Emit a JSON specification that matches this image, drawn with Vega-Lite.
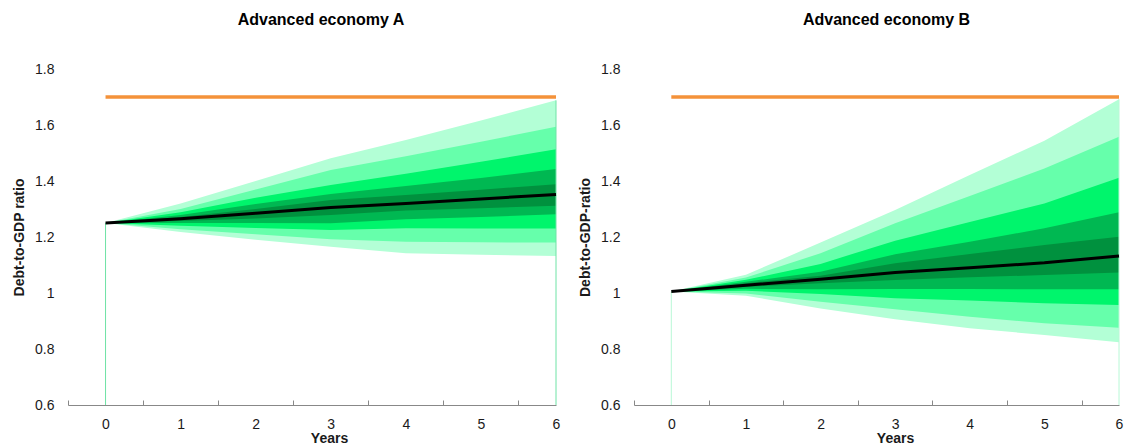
{
  "$schema": "https://vega.github.io/schema/vega-lite/v6.json",
  "padding": {"left": 12, "top": 12, "right": 0, "bottom": 0},
  "spacing": 15,
  "datasets": {
    "A": [
      {"t": 0, "b1": 1.25, "b2": 1.25, "b3": 1.25, "b4": 1.25, "b5": 1.25, "med": 1.25, "b6": 1.25, "b7": 1.25, "b8": 1.25, "b9": 1.25, "b10": 1.25},
      {"t": 1, "b1": 1.32, "b2": 1.30, "b3": 1.288, "b4": 1.279, "b5": 1.271, "med": 1.265, "b6": 1.257, "b7": 1.25, "b8": 1.24, "b9": 1.228, "b10": 1.218},
      {"t": 2, "b1": 1.40, "b2": 1.37, "b3": 1.34, "b4": 1.318, "b5": 1.30, "med": 1.285, "b6": 1.266, "b7": 1.25, "b8": 1.232, "b9": 1.21, "b10": 1.19},
      {"t": 3, "b1": 1.481, "b2": 1.439, "b3": 1.386, "b4": 1.354, "b5": 1.332, "med": 1.305, "b6": 1.279, "b7": 1.249, "b8": 1.225, "b9": 1.192, "b10": 1.165},
      {"t": 4, "b1": 1.546, "b2": 1.488, "b3": 1.426, "b4": 1.382, "b5": 1.35, "med": 1.32, "b6": 1.295, "b7": 1.263, "b8": 1.231, "b9": 1.183, "b10": 1.142},
      {"t": 5, "b1": 1.616, "b2": 1.54, "b3": 1.469, "b4": 1.411, "b5": 1.369, "med": 1.336, "b6": 1.303, "b7": 1.271, "b8": 1.23, "b9": 1.181, "b10": 1.137},
      {"t": 6, "b1": 1.688, "b2": 1.594, "b3": 1.513, "b4": 1.443, "b5": 1.388, "med": 1.352, "b6": 1.312, "b7": 1.281, "b8": 1.23, "b9": 1.18, "b10": 1.132}
    ],
    "B": [
      {"t": 0, "b1": 1.005, "b2": 1.005, "b3": 1.005, "b4": 1.005, "b5": 1.005, "med": 1.005, "b6": 1.005, "b7": 1.005, "b8": 1.005, "b9": 1.005, "b10": 1.005},
      {"t": 1, "b1": 1.065, "b2": 1.055, "b3": 1.047, "b4": 1.04, "b5": 1.035, "med": 1.028, "b6": 1.022, "b7": 1.015, "b8": 1.008, "b9": 0.998, "b10": 0.99},
      {"t": 2, "b1": 1.18, "b2": 1.142, "b3": 1.104, "b4": 1.076, "b5": 1.062, "med": 1.049, "b6": 1.035, "b7": 1.013, "b8": 0.996, "b9": 0.969, "b10": 0.945},
      {"t": 3, "b1": 1.296, "b2": 1.249, "b3": 1.187, "b4": 1.138, "b5": 1.106, "med": 1.073, "b6": 1.046, "b7": 1.014, "b8": 0.981, "b9": 0.942, "b10": 0.906},
      {"t": 4, "b1": 1.421, "b2": 1.346, "b3": 1.254, "b4": 1.183, "b5": 1.139, "med": 1.09, "b6": 1.056, "b7": 1.014, "b8": 0.973, "b9": 0.915, "b10": 0.874},
      {"t": 5, "b1": 1.544, "b2": 1.445, "b3": 1.32, "b4": 1.231, "b5": 1.171, "med": 1.108, "b6": 1.064, "b7": 1.013, "b8": 0.963, "b9": 0.892, "b10": 0.85},
      {"t": 6, "b1": 1.692, "b2": 1.558, "b3": 1.412, "b4": 1.288, "b5": 1.201, "med": 1.132, "b6": 1.073, "b7": 1.013, "b8": 0.957, "b9": 0.876, "b10": 0.824}
    ]
  },
  "hconcat": [
    {
      "width": 488,
      "height": 336,
      "title": {"text": "Advanced economy A", "fontSize": 16, "fontWeight": "bold", "anchor": "middle", "frame": "group", "offset": 34, "dx": 9, "color": "#000000"},
      "data": {"name": "A"},
      "layer": [
        {"mark": {"type": "area", "color": "#b3ffd6"}, "encoding": {
          "x": {"field": "t", "type": "quantitative", "title": "Years", "scale": {"domain": [-0.5, 6], "nice": false, "zero": false},
                "axis": {"values": [-0.5, 0.5, 1.5, 2.5, 3.5, 4.5, 5.5], "labelExpr": "format(datum.value + 0.5, 'd')", "labelOffset": 37.5}},
          "y": {"field": "b1", "type": "quantitative", "title": "Debt-to-GDP ratio", "scale": {"domain": [0.6, 1.8], "nice": false, "zero": false},
                "axis": {"values": [0.6, 0.8, 1.0, 1.2, 1.4, 1.6, 1.8], "format": ".1~f"}},
          "y2": {"field": "b10"}}},
        {"mark": {"type": "area", "color": "#66ffab"}, "encoding": {
          "x": {"field": "t", "type": "quantitative", "title": "Years"},
          "y": {"field": "b2", "type": "quantitative", "title": "Debt-to-GDP ratio"},
          "y2": {"field": "b9"}}},
        {"mark": {"type": "area", "color": "#00f56c"}, "encoding": {
          "x": {"field": "t", "type": "quantitative", "title": "Years"},
          "y": {"field": "b3", "type": "quantitative", "title": "Debt-to-GDP ratio"},
          "y2": {"field": "b8"}}},
        {"mark": {"type": "area", "color": "#00b852"}, "encoding": {
          "x": {"field": "t", "type": "quantitative", "title": "Years"},
          "y": {"field": "b4", "type": "quantitative", "title": "Debt-to-GDP ratio"},
          "y2": {"field": "b7"}}},
        {"mark": {"type": "area", "color": "#00913e"}, "encoding": {
          "x": {"field": "t", "type": "quantitative", "title": "Years"},
          "y": {"field": "b5", "type": "quantitative", "title": "Debt-to-GDP ratio"},
          "y2": {"field": "b6"}}},
        {"transform": [{"filter": "datum.t == 0 || datum.t == 6"}],
         "mark": {"type": "rule", "color": "#6fe3a6", "strokeWidth": 1},
         "encoding": {
          "x": {"field": "t", "type": "quantitative", "title": "Years"},
          "y": {"field": "b1", "type": "quantitative", "title": "Debt-to-GDP ratio"},
          "y2": {"value": "height"}}},
        {"mark": {"type": "line", "color": "#000000", "strokeWidth": 3}, "encoding": {
          "x": {"field": "t", "type": "quantitative", "title": "Years"},
          "y": {"field": "med", "type": "quantitative", "title": "Debt-to-GDP ratio"}}},
        {"mark": {"type": "line", "color": "#f4923a", "strokeWidth": 3.5}, "encoding": {
          "x": {"field": "t", "type": "quantitative", "title": "Years"},
          "y": {"datum": 1.7}}}
      ]
    },
    {
      "width": 485,
      "height": 336,
      "title": {"text": "Advanced economy B", "fontSize": 16, "fontWeight": "bold", "anchor": "middle", "frame": "group", "offset": 34, "dx": 10, "color": "#000000"},
      "data": {"name": "B"},
      "layer": [
        {"mark": {"type": "area", "color": "#b3ffd6"}, "encoding": {
          "x": {"field": "t", "type": "quantitative", "title": "Years", "scale": {"domain": [-0.5, 6], "nice": false, "zero": false},
                "axis": {"values": [-0.5, 0.5, 1.5, 2.5, 3.5, 4.5, 5.5], "labelExpr": "format(datum.value + 0.5, 'd')", "labelOffset": 37.3}},
          "y": {"field": "b1", "type": "quantitative", "title": "Debt-to-GDP-ratio", "scale": {"domain": [0.6, 1.8], "nice": false, "zero": false},
                "axis": {"values": [0.6, 0.8, 1.0, 1.2, 1.4, 1.6, 1.8], "format": ".1~f"}},
          "y2": {"field": "b10"}}},
        {"mark": {"type": "area", "color": "#66ffab"}, "encoding": {
          "x": {"field": "t", "type": "quantitative", "title": "Years"},
          "y": {"field": "b2", "type": "quantitative", "title": "Debt-to-GDP-ratio"},
          "y2": {"field": "b9"}}},
        {"mark": {"type": "area", "color": "#00f56c"}, "encoding": {
          "x": {"field": "t", "type": "quantitative", "title": "Years"},
          "y": {"field": "b3", "type": "quantitative", "title": "Debt-to-GDP-ratio"},
          "y2": {"field": "b8"}}},
        {"mark": {"type": "area", "color": "#00b852"}, "encoding": {
          "x": {"field": "t", "type": "quantitative", "title": "Years"},
          "y": {"field": "b4", "type": "quantitative", "title": "Debt-to-GDP-ratio"},
          "y2": {"field": "b7"}}},
        {"mark": {"type": "area", "color": "#00913e"}, "encoding": {
          "x": {"field": "t", "type": "quantitative", "title": "Years"},
          "y": {"field": "b5", "type": "quantitative", "title": "Debt-to-GDP-ratio"},
          "y2": {"field": "b6"}}},
        {"transform": [{"filter": "datum.t == 0 || datum.t == 6"}],
         "mark": {"type": "rule", "color": "#b8f8d6", "strokeWidth": 1},
         "encoding": {
          "x": {"field": "t", "type": "quantitative", "title": "Years"},
          "y": {"field": "b1", "type": "quantitative", "title": "Debt-to-GDP-ratio"},
          "y2": {"value": "height"}}},
        {"mark": {"type": "line", "color": "#000000", "strokeWidth": 3}, "encoding": {
          "x": {"field": "t", "type": "quantitative", "title": "Years"},
          "y": {"field": "med", "type": "quantitative", "title": "Debt-to-GDP-ratio"}}},
        {"mark": {"type": "line", "color": "#f4923a", "strokeWidth": 3.5}, "encoding": {
          "x": {"field": "t", "type": "quantitative", "title": "Years"},
          "y": {"datum": 1.7}}}
      ]
    }
  ],
  "config": {
    "font": "Liberation Sans",
    "view": {"stroke": null},
    "axisX": {
      "labelBound": false,
      "labelOverlap": false,
      "labelFlush": false,
      "tickSize": -5,
      "tickColor": "#888888",
      "domainColor": "#888888",
      "labelPadding": 17,
      "labelFontSize": 14,
      "labelColor": "#1a1a1a",
      "titleFontSize": 14,
      "titleFontWeight": "bold",
      "titleColor": "#1a1a1a",
      "titleX": 261,
      "titleY": 26,
      "titleBaseline": "top",
      "grid": false
    },
    "axisY": {
      "domain": false,
      "ticks": false,
      "grid": false,
      "labelPadding": 14,
      "labelFontSize": 14,
      "labelColor": "#1a1a1a",
      "titleFontSize": 14,
      "titleFontWeight": "bold",
      "titleColor": "#1a1a1a",
      "titlePadding": 8
    }
  }
}
